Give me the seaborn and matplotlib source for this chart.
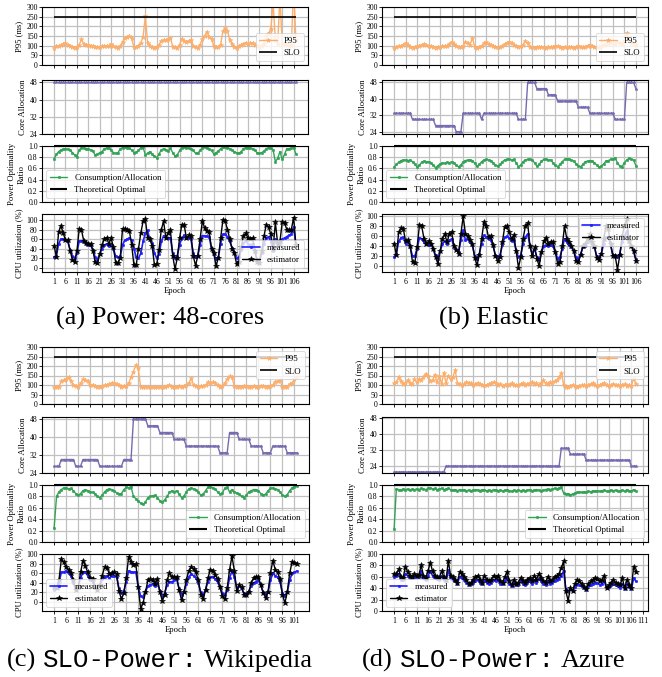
import numpy as np
import matplotlib
matplotlib.use("Agg")
import matplotlib.pyplot as plt
from matplotlib.ticker import FormatStrFormatter
import seaborn as sns

# ---------------- data: (a) Power: 48-cores ----------------
P95_A = [90, 98, 100, 103, 108, 112, 105, 100, 95, 90,
         93, 105, 132, 108, 105, 102, 100, 97, 94, 93,
         95, 96, 97, 98, 100, 110, 96, 92, 88, 98,
         118, 140, 145, 148, 138, 92, 95, 100, 115, 145,
         255, 115, 100, 92, 88, 95, 105, 125, 130, 128,
         135, 140, 95, 92, 90, 105, 135, 125, 120, 125,
         130, 100, 92, 90, 105, 135, 150, 172, 145, 135,
         100, 95, 95, 105, 175, 190, 178, 130, 110, 95,
         90, 98, 105, 110, 115, 108, 112, 115, 105, 98,
         95, 100, 110, 150, 165, 185, 320, 130, 110, 350,
         110, 105, 110, 100, 105, 400, 130]
CORE_A = [48, 48, 48, 48, 48, 48, 48, 48, 48, 48,
          48, 48, 48, 48, 48, 48, 48, 48, 48, 48,
          48, 48, 48, 48, 48, 48, 48, 48, 48, 48,
          48, 48, 48, 48, 48, 48, 48, 48, 48, 48,
          48, 48, 48, 48, 48, 48, 48, 48, 48, 48,
          48, 48, 48, 48, 48, 48, 48, 48, 48, 48,
          48, 48, 48, 48, 48, 48, 48, 48, 48, 48,
          48, 48, 48, 48, 48, 48, 48, 48, 48, 48,
          48, 48, 48, 48, 48, 48, 48, 48, 48, 48,
          48, 48, 48, 48, 48, 48, 48, 48, 48, 48,
          48, 48, 48, 48, 48, 48, 48]
RATIO_A = [0.77, 0.85, 0.90, 0.93, 0.94, 0.95, 0.94, 0.93, 0.88, 0.84,
           0.81, 0.93, 0.97, 0.96, 0.95, 0.95, 0.93, 0.91, 0.84, 0.85,
           0.88, 0.90, 0.95, 0.96, 0.96, 0.93, 0.88, 0.87, 0.88, 0.95,
           0.97, 0.98, 0.97, 0.96, 0.93, 0.88, 0.89, 0.92, 0.97, 0.98,
           0.84, 0.87, 0.90, 0.85, 0.82, 0.79, 0.86, 0.93, 0.95, 0.93,
           0.91, 0.96, 0.88, 0.82, 0.84, 0.92, 0.97, 0.98, 0.97, 0.96,
           0.95, 0.92, 0.87, 0.87, 0.92, 0.97, 0.98, 0.97, 0.95, 0.92,
           0.86, 0.88, 0.91, 0.95, 0.98, 0.98, 0.97, 0.95, 0.93, 0.90,
           0.88, 0.87, 0.90, 0.95, 0.97, 0.97, 0.96, 0.95, 0.92, 0.88,
           0.87, 0.88, 0.91, 0.95, 0.97, 0.96, 0.93, 0.72, 0.78, 0.90,
           0.76, 0.85, 0.95, 0.95, 0.96, 0.97, 0.86]
MEAS_A = [22, 25, 50, 60, 60, 58, 55, 38, 25, 20,
          30, 56, 56, 53, 50, 48, 47, 38, 22, 18,
          28, 40, 47, 50, 45, 48, 40, 24, 22, 24,
          48, 57, 60, 62, 58, 40, 22, 20, 30, 55,
          72, 78, 57, 52, 30, 20, 28, 55, 67, 62,
          63, 62, 30, 20, 25, 48, 62, 68, 62, 63,
          60, 30, 22, 25, 48, 67, 67, 66, 65, 40,
          28, 18, 22, 50, 70, 70, 65, 55, 42, 33,
          20, 22, 38, 52, 55, 50, 48, 50, 32, 18,
          15, 30, 50, 62, 65, 55, 35, 60, 45, 48,
          60, 62, 65, 68, 70, 85, 47]
EST_A = [46, 23, 75, 88, 72, 58, 57, 36, 17, 12,
         34, 81, 79, 56, 52, 50, 50, 36, 12, 9,
         28, 47, 60, 63, 50, 62, 43, 10, 10, 20,
         82, 81, 79, 77, 48, 5, 5, 40, 72, 97,
         102, 62, 60, 45, 5, 7, 38, 80, 97, 62,
         72, 78, 25, -3, 20, 62, 90, 90, 62, 68,
         67, 25, 4, 25, 60, 98, 83, 76, 74, 40,
         30, 4, 20, 62, 100, 98, 80, 60, 40, 30,
         8, 12, 43, 67, 72, 62, 60, 62, 36, 12,
         10, 35, 66, 90, 85, 70, 40, 95, 50, 55,
         95, 94, 80, 78, 80, 105, 47]

# ---------------- data: (b) Elastic ----------------
P95_B = [90, 95, 98, 100, 105, 115, 105, 95, 90, 92,
         98, 100, 105, 108, 102, 100, 98, 95, 90, 92,
         95, 98, 100, 100, 110, 118, 108, 100, 95, 92,
         100, 120, 112, 105, 140, 95, 90, 95, 100, 112,
         118, 108, 102, 100, 95, 92, 95, 100, 108, 115,
         120, 112, 105, 98, 95, 97, 105, 125, 112, 95,
         92, 90, 92, 95, 95, 92, 90, 93, 95, 92,
         100, 97, 93, 90, 92, 95, 95, 92, 90, 93,
         97, 95, 92, 95, 100, 105, 98, 95, 92, 95,
         100, 105, 108, 110, 115, 112, 110, 118, 115, 110,
         125, 165, 130, 115, 110, 105]
CORE_B = [33, 33, 33, 33, 33, 33, 33, 33, 30, 30,
          30, 30, 30, 30, 30, 30, 30, 30, 27, 27,
          27, 27, 27, 27, 27, 27, 27, 24, 24, 24,
          33, 33, 33, 33, 33, 33, 33, 33, 30, 33,
          33, 33, 33, 33, 33, 33, 33, 33, 33, 33,
          33, 33, 33, 33, 30, 30, 30, 30, 48, 48,
          48, 48, 45, 45, 45, 45, 45, 42, 42, 42,
          42, 39, 39, 39, 39, 39, 39, 39, 39, 39,
          36, 36, 36, 36, 36, 33, 33, 33, 33, 33,
          33, 33, 33, 33, 33, 33, 30, 30, 30, 30,
          30, 48, 48, 48, 48, 45]
RATIO_B = [0.62, 0.67, 0.71, 0.74, 0.75, 0.75, 0.74, 0.75, 0.72, 0.67,
           0.63, 0.66, 0.71, 0.73, 0.72, 0.72, 0.70, 0.66, 0.61, 0.65,
           0.68, 0.70, 0.69, 0.71, 0.70, 0.72, 0.70, 0.66, 0.63, 0.66,
           0.72, 0.74, 0.75, 0.75, 0.74, 0.69, 0.64, 0.67, 0.72, 0.75,
           0.76, 0.75, 0.74, 0.70, 0.66, 0.64, 0.67, 0.72, 0.75, 0.76,
           0.76, 0.75, 0.76, 0.70, 0.63, 0.66, 0.72, 0.75, 0.76, 0.76,
           0.75, 0.70, 0.64, 0.67, 0.73, 0.76, 0.76, 0.75, 0.75, 0.70,
           0.66, 0.63, 0.67, 0.72, 0.76, 0.77, 0.76, 0.75, 0.73, 0.68,
           0.65, 0.63, 0.67, 0.72, 0.73, 0.74, 0.73, 0.70, 0.66, 0.62,
           0.64, 0.68, 0.73, 0.74, 0.76, 0.77, 0.78, 0.70, 0.64, 0.63,
           0.70, 0.75, 0.78, 0.76, 0.75, 0.65]
MEAS_B = [18, 25, 50, 57, 58, 45, 50, 38, 20, 20,
          35, 57, 55, 48, 45, 42, 45, 35, 22, 15,
          30, 45, 50, 45, 52, 55, 38, 32, 28, 52,
          72, 52, 55, 48, 42, 20, 15, 25, 45, 62,
          58, 55, 52, 40, 22, 18, 22, 42, 58, 60,
          56, 50, 52, 30, 18, 22, 45, 58, 65, 40,
          25, 35, 18, 12, 28, 40, 42, 40, 42, 40,
          28, 15, 18, 35, 55, 48, 42, 38, 30, 18,
          15, 25, 38, 40, 48, 52, 45, 38, 20, 18,
          25, 45, 58, 58, 42, 22, 22, 18, 25, 48,
          60, 70, 48, 40, 30, 15]
EST_B = [45, 22, 68, 76, 75, 50, 52, 40, 8, 7,
         38, 82, 80, 55, 45, 50, 45, 35, 18, 5,
         30, 55, 65, 48, 65, 68, 40, 33, 25, 65,
         100, 65, 60, 52, 45, 17, 2, 22, 55, 88,
         80, 58, 60, 42, 20, 10, 18, 48, 78, 80,
         68, 55, 62, 30, -3, 18, 55, 80, 87, 40,
         20, 38, 15, 0, 28, 50, 57, 45, 48, 48,
         28, 5, 8, 40, 80, 55, 48, 40, 30, 10,
         8, 22, 40, 45, 55, 65, 48, 40, 16, 12,
         25, 55, 80, 75, 45, 20, 20, -7, 22, 60,
         80, 95, 50, 40, 30, 10]

# ---------------- data: (c) SLO-Power: Wikipedia ----------------
P95_C = [90, 88, 92, 120, 125, 130, 140, 120, 100, 95,
         90, 110, 130, 125, 120, 100, 98, 95, 90, 90,
         95, 98, 100, 105, 110, 112, 105, 100, 92, 93,
         95, 110, 140, 170, 205, 190, 88, 90, 92, 90,
         92, 90, 90, 92, 90, 88, 90, 95, 100, 92,
         90, 92, 95, 90, 95, 100, 110, 135, 100, 95,
         92, 93, 95, 100, 115, 112, 115, 112, 100, 90,
         95, 110, 130, 145, 140, 95, 92, 90, 92, 95,
         93, 90, 92, 95, 92, 90, 93, 95, 92, 90,
         95, 100, 118, 120, 125, 90, 92, 90, 105, 110,
         130, 140]
CORE_C = [27, 27, 27, 30, 30, 30, 30, 30, 30, 27,
          27, 27, 30, 30, 30, 30, 30, 30, 30, 27,
          27, 27, 27, 27, 27, 27, 27, 27, 27, 30,
          30, 30, 30, 48, 48, 48, 48, 48, 48, 45,
          45, 45, 45, 45, 42, 42, 42, 42, 42, 42,
          39, 39, 39, 39, 39, 36, 36, 36, 36, 36,
          36, 36, 36, 36, 36, 36, 36, 36, 36, 33,
          33, 33, 33, 42, 42, 42, 42, 39, 39, 39,
          39, 39, 36, 36, 36, 36, 36, 33, 33, 33,
          33, 36, 36, 36, 36, 36, 36, 33, 33, 33,
          33, 33]
RATIO_C = [0.25, 0.80, 0.88, 0.92, 0.95, 0.95, 0.93, 0.94, 0.90, 0.85,
           0.82, 0.85, 0.90, 0.92, 0.90, 0.88, 0.87, 0.85, 0.80, 0.78,
           0.82, 0.88, 0.92, 0.93, 0.92, 0.90, 0.86, 0.84, 0.85, 0.92,
           0.96, 0.95, 0.97, 0.80, 0.76, 0.72, 0.68, 0.66, 0.70, 0.78,
           0.80, 0.81, 0.82, 0.78, 0.72, 0.70, 0.74, 0.80, 0.87, 0.90,
           0.88, 0.90, 0.84, 0.78, 0.80, 0.88, 0.93, 0.95, 0.93, 0.92,
           0.88, 0.82, 0.84, 0.90, 0.96, 0.97, 0.95, 0.93, 0.88, 0.84,
           0.86, 0.94, 0.96, 0.88, 0.92, 0.88, 0.86, 0.84, 0.80, 0.78,
           0.82, 0.88, 0.90, 0.92, 0.92, 0.90, 0.85, 0.82, 0.84, 0.90,
           0.94, 0.95, 0.93, 0.92, 0.88, 0.82, 0.80, 0.83, 0.90, 0.95,
           0.97, 0.98]
MEAS_C = [25, 30, 40, 62, 63, 65, 60, 55, 40, 25,
          30, 50, 62, 62, 55, 45, 42, 30, 25, 35,
          48, 52, 55, 50, 55, 55, 52, 28, 18, 22,
          42, 65, 63, 62, 63, 30, 12, 10, 20, 33,
          36, 37, 34, 40, 22, 10, 18, 35, 42, 42,
          45, 47, 28, 15, 20, 38, 52, 58, 55, 50,
          40, 20, 15, 25, 42, 52, 53, 48, 42, 30,
          18, 15, 25, 50, 65, 52, 28, 33, 28, 18,
          17, 22, 33, 40, 42, 45, 35, 20, 15, 20,
          45, 60, 55, 52, 42, 18, 12, 20, 45, 60,
          62, 65]
EST_C = [30, 28, 45, 90, 83, 73, 68, 60, 45, 25,
         30, 62, 87, 75, 62, 50, 47, 30, 25, 35,
         55, 73, 72, 58, 60, 62, 58, 22, 5, 18,
         50, 95, 84, 78, 80, 30, -15, -3, 20, 45,
         48, 45, 38, 48, 20, 2, 15, 45, 60, 52,
         53, 52, 25, 3, 20, 45, 65, 73, 70, 62,
         45, 15, 5, 25, 50, 68, 65, 57, 48, 30,
         12, 5, 28, 68, 96, 65, 22, 35, 30, 15,
         15, 20, 40, 50, 53, 52, 35, 18, 8, 20,
         60, 87, 68, 62, 47, 15, -3, 20, 60, 84,
         82, 80]

# ---------------- data: (d) SLO-Power: Azure ----------------
P95_D = [110, 115, 140, 120, 105, 110, 125, 110, 105, 130,
         115, 130, 125, 140, 160, 145, 120, 125, 155, 115,
         150, 105, 165, 110, 150, 130, 140, 180, 110, 105,
         100, 105, 115, 110, 108, 100, 105, 112, 105, 100,
         100, 98, 105, 110, 115, 108, 100, 105, 95, 100,
         105, 100, 110, 102, 98, 100, 105, 110, 100, 105,
         108, 115, 105, 110, 100, 112, 125, 110, 105, 115,
         110, 120, 125, 140, 165, 100, 92, 90, 95, 100,
         95, 92, 95, 98, 100, 95, 100, 105, 110, 100,
         95, 100, 105, 110, 100, 95, 100, 105, 100, 98,
         95, 100, 105, 95, 100, 95, 135, 105]
CORE_D = [21, 21, 21, 21, 21, 21, 21, 21, 21, 21,
          21, 21, 21, 21, 21, 21, 21, 21, 21, 21,
          21, 21, 21, 24, 24, 24, 24, 24, 24, 24,
          24, 24, 24, 24, 24, 24, 24, 24, 24, 24,
          24, 24, 24, 24, 24, 24, 24, 24, 24, 24,
          24, 24, 24, 24, 24, 24, 24, 24, 24, 24,
          24, 24, 24, 24, 24, 24, 24, 24, 24, 24,
          24, 24, 24, 24, 33, 33, 33, 33, 30, 30,
          30, 30, 30, 30, 30, 27, 27, 27, 27, 27,
          27, 27, 27, 27, 27, 27, 27, 27, 27, 27,
          27, 27, 27, 27, 27, 24, 24, 24]
RATIO_D = [0.22, 0.93, 0.92, 0.91, 0.93, 0.92, 0.93, 0.91, 0.93, 0.92,
           0.93, 0.92, 0.94, 0.93, 0.92, 0.94, 0.95, 0.93, 0.94, 0.92,
           0.93, 0.94, 0.92, 0.93, 0.94, 0.92, 0.91, 0.92, 0.90, 0.92,
           0.91, 0.92, 0.90, 0.91, 0.90, 0.91, 0.92, 0.91, 0.90, 0.92,
           0.91, 0.90, 0.91, 0.90, 0.92, 0.91, 0.90, 0.91, 0.89, 0.91,
           0.92, 0.90, 0.89, 0.91, 0.90, 0.91, 0.90, 0.91, 0.90, 0.91,
           0.92, 0.90, 0.91, 0.92, 0.91, 0.90, 0.91, 0.92, 0.93, 0.92,
           0.93, 0.94, 0.93, 0.95, 0.96, 0.86, 0.84, 0.85, 0.83, 0.84,
           0.86, 0.87, 0.88, 0.87, 0.88, 0.88, 0.89, 0.88, 0.90, 0.89,
           0.90, 0.89, 0.90, 0.91, 0.89, 0.90, 0.91, 0.90, 0.91, 0.89,
           0.90, 0.91, 0.89, 0.92, 0.90, 0.89, 0.92, 0.90]
MEAS_D = [60, 62, 65, 55, 55, 65, 62, 58, 58, 60,
          60, 60, 70, 58, 55, 62, 70, 62, 58, 57,
          55, 62, 55, 52, 72, 57, 55, 52, 48, 60,
          58, 55, 50, 46, 47, 50, 53, 55, 50, 47,
          55, 50, 48, 50, 55, 52, 55, 48, 47, 53,
          58, 48, 43, 50, 45, 46, 52, 48, 46, 50,
          52, 48, 55, 50, 57, 52, 48, 46, 53, 48,
          50, 53, 55, 57, 62, 70, 38, 35, 38, 35,
          42, 47, 46, 43, 40, 37, 43, 46, 48, 50,
          49, 46, 48, 52, 40, 42, 45, 48, 45, 43,
          40, 48, 38, 47, 42, 38, 58, 52]
EST_D = [65, 65, 73, 60, 58, 78, 68, 62, 60, 65,
         62, 64, 80, 62, 58, 70, 85, 70, 62, 60,
         58, 70, 60, 55, 88, 62, 60, 55, 50, 68,
         65, 60, 55, 48, 50, 55, 60, 62, 55, 50,
         62, 55, 52, 55, 62, 58, 62, 52, 50, 60,
         68, 52, 45, 55, 48, 50, 58, 52, 50, 55,
         58, 52, 62, 55, 65, 58, 52, 50, 60, 52,
         55, 60, 62, 65, 75, 87, 35, 18, 40, 35,
         48, 55, 52, 48, 42, 38, 48, 52, 55, 58,
         56, 52, 55, 62, 40, 45, 50, 55, 50, 48,
         45, 58, 40, 55, 45, 40, 78, 68]

SLO = 250
OPTIMAL = 1.0

XTICKS_A = [1, 6, 11, 16, 21, 26, 31, 36, 41, 46, 51, 56, 61, 66, 71, 76, 81, 86, 91, 96, 101, 106]
XTICKS_B = XTICKS_A
XTICKS_C = [1, 6, 11, 16, 21, 26, 31, 36, 41, 46, 51, 56, 61, 66, 71, 76, 81, 86, 91, 96, 101]
XTICKS_D = [1, 6, 11, 16, 21, 26, 31, 36, 41, 46, 51, 56, 61, 66, 71, 76, 81, 86, 91, 96, 101, 106, 111]

# ---------------- style ----------------
ORANGE = "#fdae6b"
PURPLE = "#756bb1"
GREEN = "#31a354"
BLUE = "#1f1fff"
BLACK = "black"

sns.set_theme(style="whitegrid", rc={
    "axes.edgecolor": "black", "axes.linewidth": 0.8,
    "grid.color": "#c0c0c0", "grid.linewidth": 0.9,
    "xtick.bottom": True, "ytick.left": True,
    "xtick.major.size": 2.5, "ytick.major.size": 2.0,
    "xtick.major.width": 0.6, "ytick.major.width": 0.6,
    "xtick.color": "black", "ytick.color": "black",
    "xtick.labelsize": 5.6, "ytick.labelsize": 5.6,
    "axes.labelsize": 6.2, "legend.fontsize": 6.3,
    "xtick.major.pad": 1.5, "ytick.major.pad": 1.0,
    "axes.labelpad": 2.0,
    "legend.framealpha": 0.8, "legend.edgecolor": "0.8",
    "text.color": "black", "axes.labelcolor": "black",
})
plt.rcParams["font.family"] = ["Liberation Serif", "DejaVu Serif"]

W, H = 662, 677
fig = plt.figure(figsize=(W / 100, H / 100), dpi=100)
fig.patch.set_facecolor("white")

TOP_ROWS = [(7, 65), (80, 134), (146, 202), (214, 272)]
BOT_ROWS = [(347, 404), (417, 473), (485, 542), (554, 611)]


def line(ax, x, y, color, marker, ms, lw, label):
    sns.lineplot(x=x, y=y, ax=ax, color=color, marker=marker, markersize=ms,
                 markeredgecolor=color, markeredgewidth=0.4, linewidth=lw,
                 label=label, errorbar=None, sort=False, legend=False)


def panel(x0, x1, rows, p95, core, ratio, meas, est, locs, core_lim, cpu_lim, xticks):
    ep = np.arange(1, len(p95) + 1)
    axes = []
    for (t, b) in rows:
        ax = fig.add_axes([x0 / W, 1 - b / H, (x1 - x0) / W, (b - t) / H],
                          sharex=axes[0] if axes else None)
        axes.append(ax)
    a1, a2, a3, a4 = axes

    line(a1, ep, p95, ORANGE, "*", 3.5, 1.0, "P95")
    a1.hlines(SLO, ep[0], ep[-1], colors=BLACK, linewidth=1.2, label="SLO")
    a1.set_ylim(0, 300)
    a1.set_yticks([0, 50, 100, 150, 200, 250, 300])
    a1.set_ylabel("P95 (ms)")
    a1.legend(loc=locs[0])

    line(a2, ep, core, PURPLE, "*", 2.2, 1.0, None)
    a2.set_ylim(*core_lim)
    a2.set_yticks([24, 32, 40, 48])
    a2.set_ylabel("Core Allocation")

    line(a3, ep, ratio, GREEN, ".", 3.5, 1.0, "Consumption/Allocation")
    a3.hlines(OPTIMAL, ep[0], ep[-1], colors=BLACK, linewidth=1.5,
              label="Theoretical Optimal", clip_on=False, zorder=5)
    a3.set_ylim(0, 1.0)
    a3.set_yticks([0, 0.2, 0.4, 0.6, 0.8, 1.0])
    a3.yaxis.set_major_formatter(FormatStrFormatter("%.1f"))
    a3.set_ylabel("Power Optimality\nRatio")
    a3.legend(loc=locs[1])

    line(a4, ep, meas, BLUE, ".", 3.5, 1.2, "measured")
    line(a4, ep, est, BLACK, "*", 3.8, 1.0, "estimator")
    a4.set_ylim(*cpu_lim)
    a4.set_yticks([0, 20, 40, 60, 80, 100])
    a4.set_ylabel("CPU utilization (%)")
    a4.set_xlabel("Epoch", labelpad=1)
    a4.legend(loc=locs[2])

    a4.set_xticks(xticks)
    for ax in axes:
        ax.grid(True)
        ax.tick_params(axis="x", direction="out")
        for s in ax.spines.values():
            s.set_color("black")
    for ax in axes[:3]:
        ax.tick_params(labelbottom=False)
    for ax in (a1, a3, a4):
        leg = ax.get_legend()
        if leg is not None:
            leg.get_frame().set_linewidth(0.6)


panel(42, 308, TOP_ROWS, P95_A, CORE_A, RATIO_A, MEAS_A, EST_A,
      ("lower right", "lower left", "lower right"), (24, 49.1), (-9, 112.5), XTICKS_A)
panel(382, 648, TOP_ROWS, P95_B, CORE_B, RATIO_B, MEAS_B, EST_B,
      ("lower right", "lower left", "upper right"), (22.9, 49.2), (-12, 105), XTICKS_B)
panel(42, 309, BOT_ROWS, P95_C, CORE_C, RATIO_C, MEAS_C, EST_C,
      ("upper right", "lower right", "lower left"), (24, 48.9), (-20, 101), XTICKS_C)
panel(382, 648, BOT_ROWS, P95_D, CORE_D, RATIO_D, MEAS_D, EST_D,
      ("upper right", "lower right", "lower left"), (20.5, 48.7), (0, 100), XTICKS_D)

# ---------------- captions ----------------
SERIF = ["Liberation Serif", "DejaVu Serif"]
MONO = ["Liberation Mono", "DejaVu Sans Mono"]
CAP_FS = 19
renderer = fig.canvas.get_renderer()


def caption(pieces, cx, cy):
    texts, widths = [], []
    space = 0.25 * CAP_FS * 100 / 72
    for s, fam, fs in pieces:
        t = fig.text(0, 0, s, fontsize=fs, family=fam, va="baseline", ha="left")
        widths.append(t.get_window_extent(renderer=renderer).width)
        texts.append(t)
    total = sum(widths) + space * (len(pieces) - 1)
    x = cx - total / 2
    for t, w in zip(texts, widths):
        t.set_position((x / W, 1 - cy / H))
        x += w + space


caption([("(a) Power: 48-cores", SERIF, CAP_FS)], 160, 325)
caption([("(b) Elastic", SERIF, CAP_FS)], 494, 325)
caption([("(c)", SERIF, CAP_FS), ("SLO-Power:", MONO, 18.5), ("Wikipedia", SERIF, CAP_FS)], 160, 667)
caption([("(d)", SERIF, CAP_FS), ("SLO-Power:", MONO, 18.5), ("Azure", SERIF, CAP_FS)], 494, 667)

fig.savefig("out.png", dpi=100, facecolor="white")
